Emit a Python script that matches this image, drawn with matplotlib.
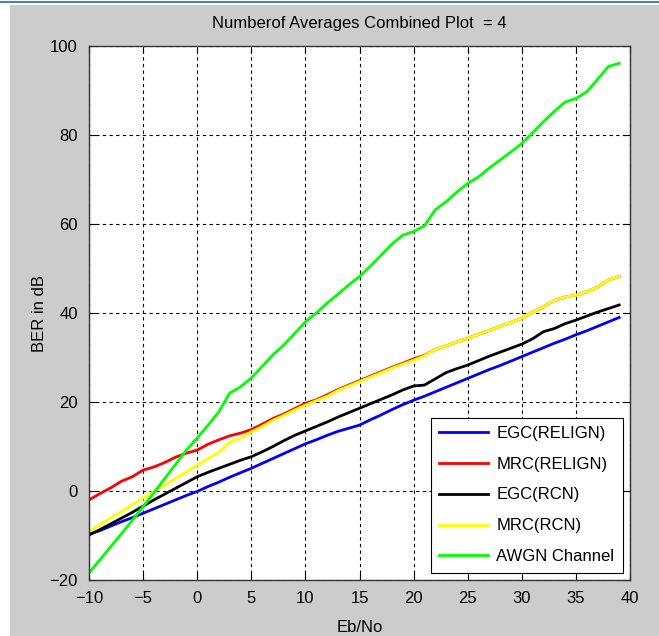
import matplotlib.pyplot as plt
import matplotlib.patches as mpatches
import matplotlib.lines as mlines

plt.rcParams['font.family'] = ['Liberation Sans', 'DejaVu Sans']

# Eb/No axis
ebno = list(range(-10, 40))

egc_relign = [-9.7, -8.9, -7.9, -6.9, -6.0, -5.0, -4.0, -3.0, -2.0, -1.0,
              -0.1, 1.0, 2.0, 3.1, 4.1, 5.1, 6.2, 7.3, 8.4, 9.5,
              10.6, 11.5, 12.5, 13.4, 14.1, 14.8, 16.0, 17.1, 18.3, 19.4,
              20.4, 21.3, 22.3, 23.3, 24.3, 25.3, 26.3, 27.3, 28.2, 29.2,
              30.2, 31.2, 32.2, 33.2, 34.1, 35.1, 36.0, 37.0, 38.0, 39.0]

mrc_relign = [-2.0, -0.6, 0.7, 2.2, 3.2, 4.7, 5.4, 6.4, 7.6, 8.5,
              9.2, 10.5, 11.5, 12.4, 13.0, 13.8, 15.0, 16.3, 17.3, 18.5,
              19.7, 20.5, 21.6, 22.8, 23.8, 24.8, 25.8, 26.8, 27.8, 28.7,
              29.7, 30.5, 31.8, 32.6, 33.5, 34.3, 35.2, 36.1, 37.0, 37.9,
              38.8, 40.2, 41.4, 42.8, 43.6, 44.0, 44.8, 45.8, 47.4, 48.2]

egc_rcn = [-9.9, -8.7, -7.4, -6.1, -4.8, -3.4, -2.0, -0.7, 0.6, 1.9,
           3.2, 4.2, 5.1, 6.0, 6.9, 7.7, 8.8, 10.0, 11.3, 12.5,
           13.5, 14.5, 15.5, 16.6, 17.6, 18.6, 19.6, 20.6, 21.6, 22.7,
           23.6, 23.8, 25.2, 26.6, 27.5, 28.3, 29.3, 30.3, 31.2, 32.1,
           33.0, 34.2, 35.8, 36.5, 37.6, 38.4, 39.3, 40.2, 41.0, 41.8]

mrc_rcn = [-9.1, -7.6, -6.1, -4.6, -3.1, -1.6, -0.1, 1.3, 2.8, 4.3,
           5.8, 7.3, 8.7, 11.0, 11.8, 13.3, 14.5, 15.9, 17.0, 18.2,
           19.3, 20.3, 21.3, 22.6, 23.6, 24.6, 25.6, 26.6, 27.6, 28.5,
           29.4, 30.4, 31.8, 32.6, 33.5, 34.3, 35.2, 36.1, 37.0, 37.9,
           38.8, 40.2, 41.4, 42.8, 43.6, 44.0, 44.8, 45.8, 47.4, 48.2]

awgn = [-18.4, -15.5, -12.5, -9.6, -6.6, -3.5, -0.4, 2.8, 6.0, 9.2,
        11.9, 14.8, 17.8, 22.0, 23.4, 25.4, 28.0, 30.6, 32.8, 35.4,
        38.0, 40.0, 42.2, 44.2, 46.3, 48.2, 50.5, 53.0, 55.5, 57.5,
        58.3, 59.6, 63.2, 65.0, 67.2, 69.1, 70.6, 72.6, 74.4, 76.2,
        78.1, 80.5, 83.0, 85.3, 87.4, 88.2, 89.7, 92.5, 95.4, 96.1]

fig = plt.figure(figsize=(6.59, 6.36), dpi=100)
fig.patch.set_facecolor('white')
# screenshot frame: grey window area and thin blue line on top
fig.patches.append(mpatches.Rectangle((10 / 659, 0), 1, 631 / 636, transform=fig.transFigure,
                                      facecolor='#cccccc', edgecolor='none', zorder=-10))
fig.lines.append(mlines.Line2D([0, 1], [1 - 2 / 636, 1 - 2 / 636], transform=fig.transFigure,
                               color='#4f7fb5', lw=1.5, zorder=-5))

ax = fig.add_axes([89 / 659, 56 / 636, 541 / 659, 534 / 636])
ax.set_facecolor('white')

ax.plot(ebno, egc_relign, color='#0000ff', lw=2, label='EGC(RELIGN)')
ax.plot(ebno, mrc_relign, color='#ff0000', lw=2, label='MRC(RELIGN)')
ax.plot(ebno, egc_rcn, color='black', lw=2, label='EGC(RCN)')
ax.plot(ebno, mrc_rcn, color='#ffff00', lw=2, label='MRC(RCN)')
ax.plot(ebno, awgn, color='#00ff00', lw=2, label='AWGN Channel')

ax.set_xlim(-10, 40)
ax.set_ylim(-20, 100)
ax.set_xticks(range(-10, 41, 5))
ax.set_yticks(range(-20, 101, 20))
ax.grid(True, color='black', linestyle=(0, (3, 3)), linewidth=0.8)
ax.tick_params(direction='in', top=True, right=True, length=5, labelsize=12, pad=8)
for s in ax.spines.values():
    s.set_linewidth(1.0)
    s.set_color('#333333')

plt.title('Numberof Averages Combined Plot  = 4', fontsize=12, pad=13)
plt.xlabel('Eb/No', fontsize=12, labelpad=10)
plt.ylabel('BER in dB', fontsize=12, labelpad=2)

leg = ax.legend(loc='lower right', fontsize=12, fancybox=False, framealpha=1,
                edgecolor='black', handlelength=2.9, borderaxespad=0.45,
                labelspacing=0.95, handletextpad=0.5, borderpad=0.5)
leg.get_frame().set_linewidth(0.8)

plt.savefig('out.png', dpi=100)
